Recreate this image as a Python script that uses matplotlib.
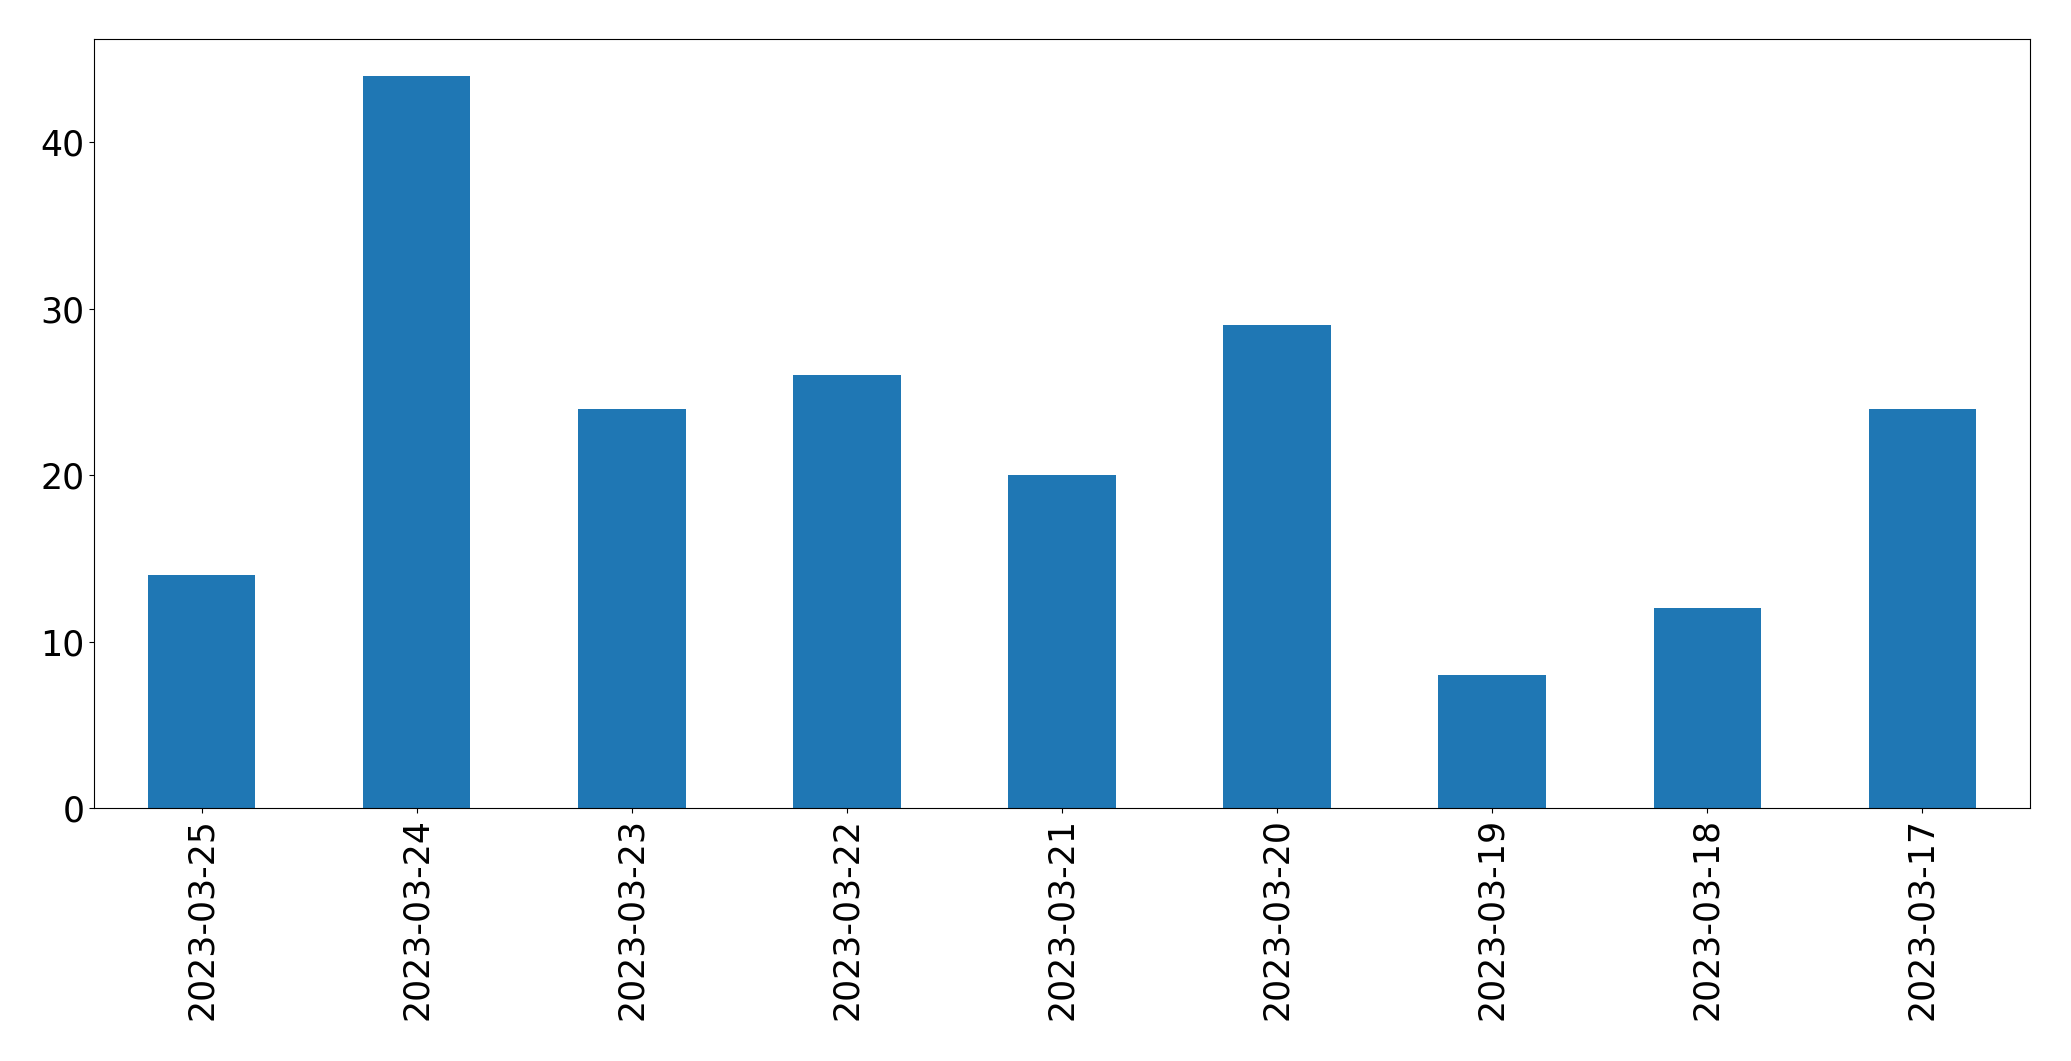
import matplotlib
matplotlib.use("Agg")
import matplotlib.pyplot as plt
import pandas as pd

dates = ["2023-03-25", "2023-03-24", "2023-03-23", "2023-03-22", "2023-03-21",
         "2023-03-20", "2023-03-19", "2023-03-18", "2023-03-17"]
counts = [14, 44, 24, 26, 20, 29, 8, 12, 24]

s = pd.Series(counts, index=dates)

fig, ax = plt.subplots(figsize=(20.71, 10.61), dpi=100)
s.plot(kind="bar", ax=ax, color="#1f77b4")
ax.tick_params(axis="both", labelsize=25)
plt.subplots_adjust(left=94/2071, right=2030/2071, top=1-39/1061, bottom=1-808/1061)
fig.savefig("out.png", dpi=100)
